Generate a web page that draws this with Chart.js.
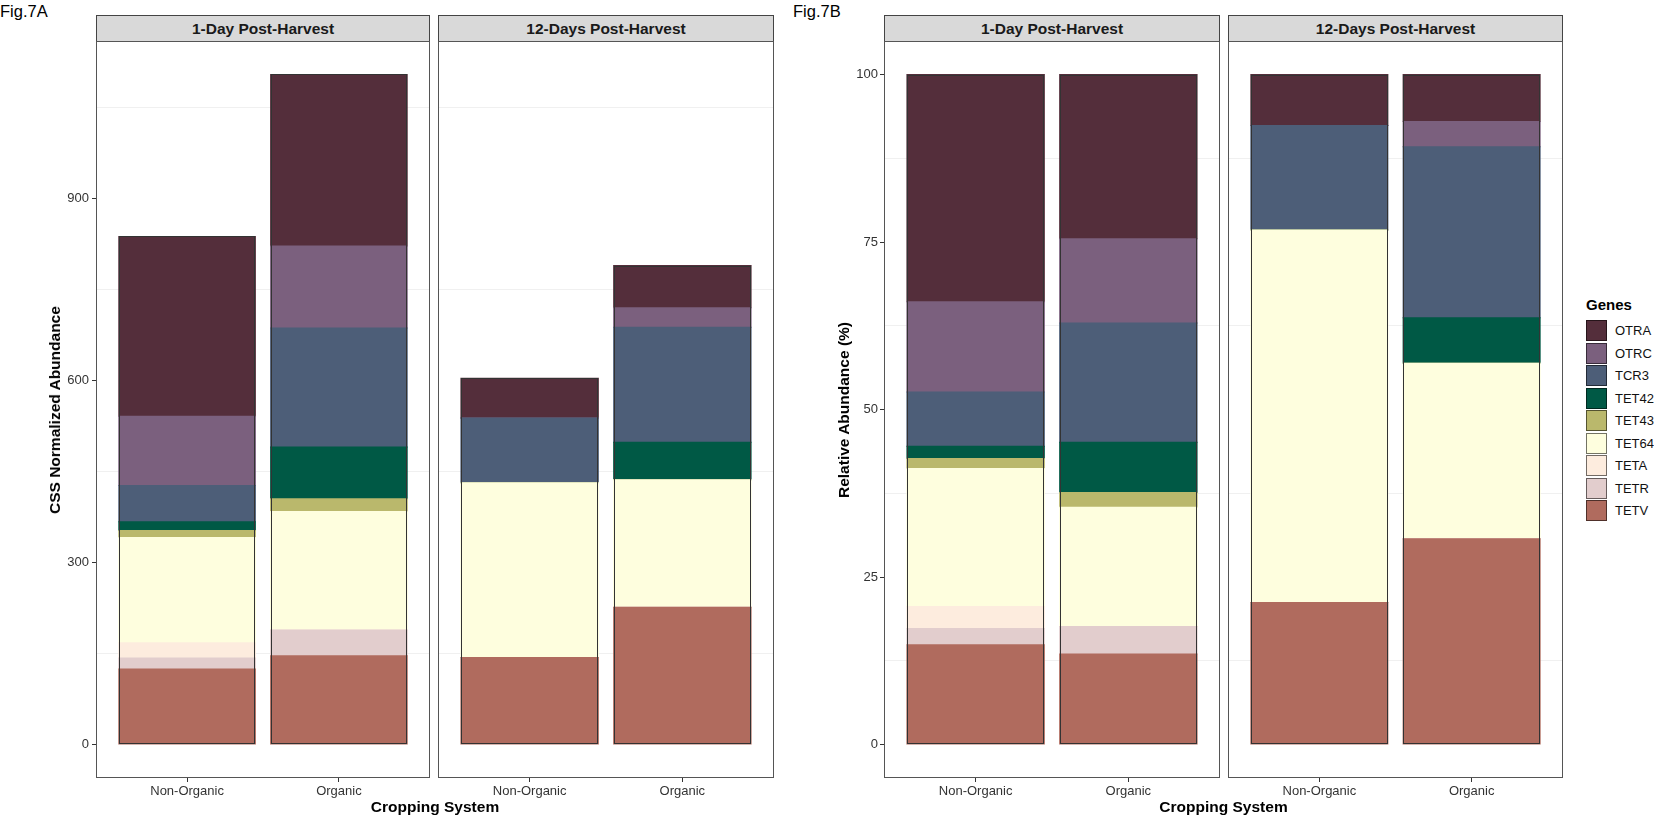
<!DOCTYPE html>
<html>
<head>
<meta charset="utf-8">
<script src="https://cdn.jsdelivr.net/npm/chart.js@4.4.0/dist/chart.umd.min.js"></script>
<style>
  body { margin: 0; background: #fff; font-family: "Liberation Sans", Arial, sans-serif; }
  #page { position: relative; width: 1654px; height: 816px; overflow: hidden; background: #fff; }
  canvas { position: absolute; }
  .strip { position: absolute; background: #d9d9d9; border: 1px solid #444; box-sizing: border-box;
           font-weight: bold; font-size: 15.5px; color: #1a1a1a; display: flex; align-items: center; justify-content: center; }
  .frame { position: absolute; border: 1px solid #555; box-sizing: border-box; pointer-events: none; z-index: 2; }
  .txt { position: absolute; white-space: nowrap; color: #000; }
  .ytitle { position: absolute; font-weight: bold; font-size: 15.5px; white-space: nowrap;
            transform: translate(-50%, -50%) rotate(-90deg); }
  .xtitle { position: absolute; font-weight: bold; font-size: 15.5px; white-space: nowrap; transform: translate(-50%, -50%); }
  .key { position: absolute; width: 21px; height: 21px; box-sizing: border-box; border: 1px solid rgba(0,0,0,0.55); }
  .klab { position: absolute; font-size: 13px; line-height: 21px; color: #111; }
</style>
</head>
<body>
<div id="page"></div>
<script>
// === Data ===
const genes = ['OTRA', 'OTRC', 'TCR3', 'TET42', 'TET43', 'TET64', 'TETA', 'TETR', 'TETV'];
const geneColors = ['#542e3b', '#7b607e', '#4d5e78', '#005945', '#bab86c', '#fefede', '#fdecde', '#e2cdcd', '#b06b5e'];
const systems = ['Non-Organic', 'Organic'];
const facets = ['1-Day Post-Harvest', '12-Days Post-Harvest'];

// Fig.7A - CSS normalized abundance, one value per gene (same order as genes)
const cssDay1NonOrganic  = [296.4, 114.1, 59.6, 14.2, 11.9, 173.0, 25.4, 17.9, 124.5];
const cssDay1Organic     = [282.7, 134.7, 196.4, 85.0, 20.9, 195.3, 0, 42.5, 146.2];
const cssDay12NonOrganic = [65.6, 0, 106.7, 0, 0, 287.8, 0, 0, 143.2];
const cssDay12Organic    = [69.4, 32.1, 189.5, 61.8, 0, 210.2, 0, 0, 226.0];

// Fig.7B - relative abundance (%)
const relDay1NonOrganic  = [33.9, 13.5, 8.1, 1.8, 1.5, 20.6, 3.3, 2.4, 14.9];
const relDay1Organic     = [24.5, 12.6, 17.8, 7.5, 2.2, 17.8, 0, 4.1, 13.5];
const relDay12NonOrganic = [7.6, 0, 15.6, 0, 0, 55.6, 0, 0, 21.2];
const relDay12Organic    = [7.0, 3.8, 25.5, 6.8, 0, 26.2, 0, 0, 30.7];

const cssTicks = [0, 300, 600, 900];
const relTicks = [0, 25, 50, 75, 100];

// === Layout ===
const FONT = '"Liberation Sans", Arial, sans-serif';
Chart.defaults.font.family = FONT;
const page = document.getElementById('page');
const PANEL_TOP = 41, PANEL_BOTTOM = 778, STRIP_TOP = 15;
const X_AXIS_H = 30, Y_AXIS_W = 50;

function addEl(cls, style, text) {
  const d = document.createElement('div');
  d.className = cls;
  Object.assign(d.style, style);
  if (text != null) d.textContent = text;
  page.appendChild(d);
  return d;
}

const sum = a => a.reduce((s, v) => s + v, 0);

// dark outline around each whole stack (segments themselves have no border)
const stackOutline = {
  id: 'stackOutline',
  afterDatasetsDraw(chart) {
    const ds = chart.data.datasets;
    const n = ds[0].data.length;
    const ctx = chart.ctx;
    ctx.save();
    ctx.strokeStyle = '#333';
    ctx.lineWidth = 1;
    for (let i = 0; i < n; i++) {
      let top = null, bottom = null;
      ds.forEach((d, k) => {
        if (d.data[i].y > 0) {
          const el = chart.getDatasetMeta(k).data[i];
          if (!bottom) bottom = el;
          top = el;
        }
      });
      if (!top) continue;
      const x0 = Math.round(top.x - top.width / 2) + 0.5;
      const x1 = Math.round(top.x + top.width / 2) - 0.5;
      const y0 = Math.round(top.y) + 0.5;
      const y1 = Math.round(bottom.base) - 0.5;
      ctx.strokeRect(x0, y0, x1 - x0, y1 - y0);
    }
    ctx.restore();
  }
};

function drawPanel(left, right, series, yMin, yMax, majors, showY, tickPad) {
  const panelW = right - left, panelH = PANEL_BOTTOM - PANEL_TOP;
  const axisW = showY ? Y_AXIS_W : 0;
  const cv = document.createElement('canvas');
  cv.width = panelW + axisW; cv.height = panelH + X_AXIS_H;
  cv.style.left = (left - axisW) + 'px'; cv.style.top = PANEL_TOP + 'px';
  cv.style.width = cv.width + 'px'; cv.style.height = cv.height + 'px';
  page.appendChild(cv);

  const step = majors[1] - majors[0];
  const gridVals = [];
  for (let v = 0; v <= yMax; v += step / 2) gridVals.push(v);
  const isMajor = v => majors.includes(v);

  const datasets = genes.map((g, gi) => ({
    label: g,
    data: series.map((vals, si) => ({ x: si + 1, y: vals[gi] })),
    backgroundColor: geneColors[gi],
    borderWidth: 0,
    inflateAmount: 0.5,
    categoryPercentage: 0.9,
    barPercentage: 1.0
  })).reverse();

  new Chart(cv, {
    type: 'bar',
    data: { datasets },
    plugins: [stackOutline],
    options: {
      responsive: false,
      animation: false,
      layout: { padding: 0 },
      plugins: { legend: { display: false }, tooltip: { enabled: false } },
      scales: {
        x: {
          type: 'linear', min: 0.4, max: 2.6, stacked: true, offset: false,
          afterBuildTicks: s => { s.ticks = systems.map((_, i) => ({ value: i + 1 })); },
          ticks: { callback: (v, i) => systems[i], font: { size: 13 }, color: '#333', padding: 2, maxRotation: 0, autoSkip: false },
          grid: { offset: false, drawOnChartArea: false, drawTicks: true, tickLength: 4, tickColor: '#333' },
          border: { display: false },
          afterFit: s => { s.height = X_AXIS_H; s.paddingLeft = 0; s.paddingRight = 0; }
        },
        y: {
          type: 'linear', min: yMin, max: yMax, stacked: true,
          afterBuildTicks: s => { s.ticks = gridVals.map(v => ({ value: v })); },
          ticks: { display: showY, callback: v => isMajor(v) ? String(v) : '', font: { size: 13 }, color: '#333', padding: tickPad, autoSkip: false },
          grid: {
            color: c => isMajor(c.tick.value) ? 'rgba(0,0,0,0)' : '#f0f0f0',
            lineWidth: 1,
            drawTicks: showY, tickLength: 4,
            tickColor: c => isMajor(c.tick.value) ? '#333' : 'rgba(0,0,0,0)'
          },
          border: { display: false },
          afterFit: s => { s.width = axisW; s.paddingTop = 0; s.paddingBottom = 0; }
        }
      }
    }
  });

  addEl('frame', { left: left + 'px', top: PANEL_TOP + 'px', width: panelW + 'px', height: panelH + 'px' });
}

function drawFigure(cfg) {
  const all = cfg.series.flat();
  const maxTotal = Math.max(...all.map(sum));
  const yMin = -0.05 * maxTotal, yMax = 1.05 * maxTotal;
  cfg.panels.forEach((p, fi) => {
    drawPanel(p[0], p[1], cfg.series[fi], yMin, yMax, cfg.majors, fi === 0, cfg.tickPad);
    addEl('strip', { left: p[0] + 'px', top: STRIP_TOP + 'px', width: (p[1] - p[0]) + 'px', height: (PANEL_TOP - STRIP_TOP + 1) + 'px' }, facets[fi]);
  });
  addEl('txt', { left: cfg.figX + 'px', top: '2px', fontSize: '16.5px' }, cfg.figLabel);
  addEl('ytitle', { left: cfg.yTitleX + 'px', top: ((PANEL_TOP + PANEL_BOTTOM) / 2) + 'px' }, cfg.yTitle);
  addEl('xtitle', { left: ((cfg.panels[0][0] + cfg.panels[1][1]) / 2) + 'px', top: '807px' }, 'Cropping System');
}

drawFigure({
  figLabel: 'Fig.7A', figX: 0, yTitle: 'CSS Normalized Abundance', yTitleX: 54.5,
  panels: [[96, 430], [438, 774]],
  series: [[cssDay1NonOrganic, cssDay1Organic], [cssDay12NonOrganic, cssDay12Organic]],
  majors: cssTicks, tickPad: 3
});

drawFigure({
  figLabel: 'Fig.7B', figX: 793, yTitle: 'Relative Abundance (%)', yTitleX: 844,
  panels: [[884, 1220], [1228, 1563]],
  series: [[relDay1NonOrganic, relDay1Organic], [relDay12NonOrganic, relDay12Organic]],
  majors: relTicks, tickPad: 2
});

// === Legend ===
addEl('txt', { left: '1586px', top: '296px', fontSize: '15px', fontWeight: 'bold', lineHeight: '18px' }, 'Genes');
genes.forEach((g, i) => {
  const top = 320 + i * 22.5;
  addEl('key', { left: '1586px', top: top + 'px', background: geneColors[i] });
  addEl('klab', { left: '1615px', top: top + 'px' }, g);
});
</script>
</body>
</html>
